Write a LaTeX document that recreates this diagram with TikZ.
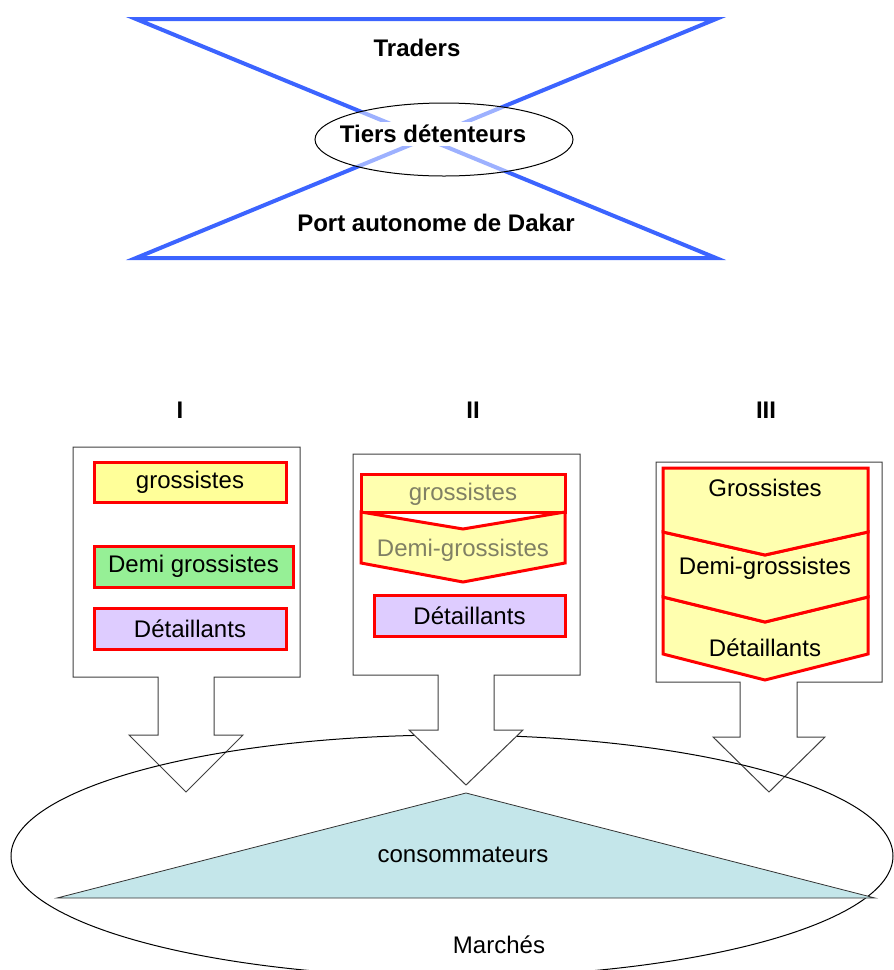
\documentclass[tikz,border=0pt]{standalone}
\usepackage{fontspec}
\setmainfont{Liberation Sans}
\definecolor{tblue}{RGB}{60,100,255}
\definecolor{boxyellow}{RGB}{255,255,153}
\definecolor{chevyellow}{RGB}{255,255,175}
\definecolor{boxgreen}{RGB}{150,240,150}
\definecolor{boxlilac}{RGB}{222,204,255}
\definecolor{consteal}{RGB}{196,230,234}
\definecolor{fadetext}{RGB}{128,128,100}
\begin{document}
\begin{tikzpicture}[x=0.5pt, y=-0.5pt,
    every node/.style={font=\fontsize{12}{14}\selectfont},
    bold/.style={font=\bfseries\fontsize{12}{14}\selectfont},
    hourglass/.style={draw=tblue, line width=2pt, line join=miter},
    redbox/.style={draw=red, line width=1.5pt, inner sep=0pt},
    chevron/.style={draw=red, line width=1.5pt, fill=chevyellow},
    callout/.style={draw=black!75, line width=0.5pt, fill=white}]
  \useasboundingbox (0,0) rectangle (894,970);

  % top: hourglass
  \draw[hourglass] (136,19) -- (716,19) -- (136,258) -- (716,258) -- cycle;
  \draw[line width=0.5pt, fill=white, fill opacity=0.5] (444,139.5) ellipse [x radius=64.5pt, y radius=18.25pt];
  \node[bold] (traders) at (417,48) {Traders};
  \node[bold, fill=white, inner sep=1.5pt] (tiers) at (433,134) {Tiers détenteurs};
  \node[bold] (port) at (436,223) {Port autonome de Dakar};

  % channel titles
  \node[bold] (tI) at (180,410) {I};
  \node[bold] (tII) at (473,410) {II};
  \node[bold] (tIII) at (766,410) {III};

  % callouts I and III
  \draw[callout] (73,447) -- (300,447) -- (300,677) -- (214,677) -- (214,735) -- (243,735)
    -- (186,792) -- (129,735) -- (158,735) -- (158,677) -- (73,677) -- cycle;
  \draw[callout] (656,462) -- (882,462) -- (882,682) -- (797,682) -- (797,737) -- (825,737)
    -- (769,792) -- (713,737) -- (740,737) -- (740,682) -- (656,682) -- cycle;

  % markets
  \draw[line width=0.5pt] (452,856) ellipse [x radius=220.5pt, y radius=60.5pt];
  \draw[draw=black!80, line width=0.4pt, fill=consteal] (466,793) -- (875,898) -- (57,898) -- cycle;
  \node (cons) at (463,855) {consommateurs};
  \node (marches) at (499,945) {Marchés};

  % callout II
  \draw[callout] (353,454) -- (580,454) -- (580,675) -- (494,675) -- (494,730) -- (523,730)
    -- (466,785) -- (409,730) -- (438,730) -- (438,675) -- (353,675) -- cycle;

  % channel I
  \node[redbox, fill=boxyellow, minimum width=96pt, minimum height=20pt] (g1) at (190,482) {grossistes};
  \node[redbox, fill=boxgreen, minimum width=99.5pt, minimum height=20.5pt] (dg1) at (193.5,566.5) {Demi grossistes};
  \node[redbox, fill=boxlilac, minimum width=96pt, minimum height=20.5pt] (d1) at (190,628.5) {Détaillants};

  % channel II
  \draw[chevron] (361,474) rectangle (565,512);
  \draw[chevron] (361,512) -- (463,529) -- (565,512) -- (565,563) -- (463,582) -- (361,563) -- cycle;
  \node[text=fadetext] (g2) at (463,494) {grossistes};
  \node[text=fadetext] (dg2) at (463,550) {Demi-grossistes};
  \node[redbox, fill=boxlilac, minimum width=95.5pt, minimum height=20.5pt] (d2) at (469.5,615.5) {Détaillants};

  % channel III
  \draw[chevron] (663,597) -- (765,622) -- (868,597) -- (868,654) -- (765,680) -- (663,654) -- cycle;
  \draw[chevron] (663,532) -- (765,555) -- (868,532) -- (868,597) -- (765,622) -- (663,597) -- cycle;
  \draw[chevron] (663,468) -- (868,468) -- (868,532) -- (765,555) -- (663,532) -- cycle;
  \node (g3) at (765,488) {Grossistes};
  \node (dg3) at (765,568) {Demi-grossistes};
  \node (d3) at (765,648) {Détaillants};
\end{tikzpicture}
\end{document}
